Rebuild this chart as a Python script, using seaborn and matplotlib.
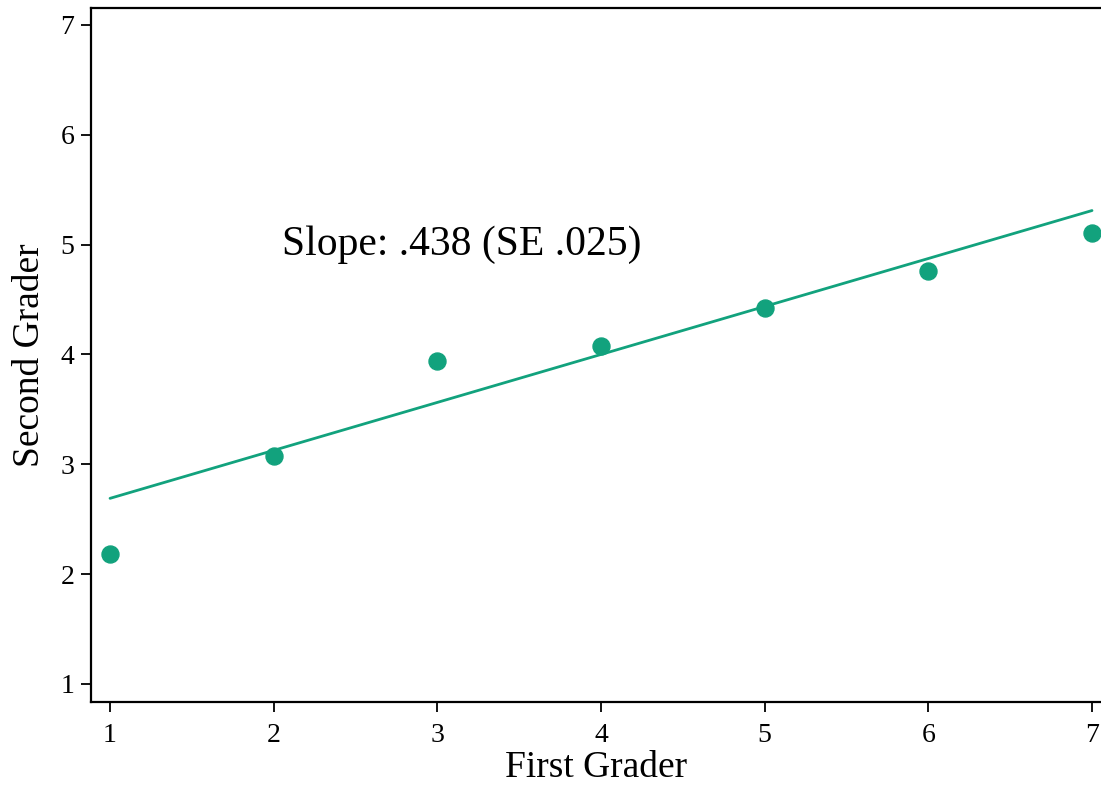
import matplotlib
matplotlib.use('Agg')
import matplotlib.pyplot as plt
import seaborn as sns
import pandas as pd

# data
first_grader = [1, 2, 3, 4, 5, 6, 7]
second_grader = [2.18, 3.08, 3.94, 4.08, 4.42, 4.76, 5.11]

# fitted line (endpoints)
fit_x = [1, 7]
fit_y = [2.69, 5.31]

slope_label = 'Slope: .438 (SE .025)'
ticks = [1, 2, 3, 4, 5, 6, 7]

green = '#12a27d'

sns.set_style('ticks')
plt.rcParams['font.family'] = ['Liberation Serif', 'DejaVu Serif']
plt.rcParams['text.color'] = 'black'
plt.rcParams['axes.labelcolor'] = 'black'
plt.rcParams['xtick.color'] = 'black'
plt.rcParams['ytick.color'] = 'black'
plt.rcParams['axes.edgecolor'] = 'black'

fig = plt.figure(figsize=(11.01, 7.87), dpi=100)
ax = fig.add_axes([0.0827, 0.108, 0.9173, 0.882])

pts = pd.DataFrame({'x': first_grader, 'y': second_grader})
fit = pd.DataFrame({'x': fit_x, 'y': fit_y})

sns.lineplot(data=fit, x='x', y='y', color=green, lw=2, ax=ax)
sns.scatterplot(data=pts, x='x', y='y', color=green, s=150, edgecolor=green, ax=ax, zorder=3)

ax.text(2.05, 5.0, slope_label, fontsize=30, va='center', ha='left')

ax.set_xlim(0.884, 7.055)
ax.set_ylim(0.836, 7.155)
ax.set_xticks(ticks)
ax.set_yticks(ticks)
ax.tick_params(labelsize=20, length=7, width=1.3, direction='out')
ax.tick_params(axis='x', pad=8)
ax.tick_params(axis='y', pad=5)
ax.set_xlabel('First Grader', fontsize=27, labelpad=2)
ax.set_ylabel('Second Grader', fontsize=27, labelpad=10)

for s in ['left', 'bottom', 'top']:
    ax.spines[s].set_linewidth(1.6)
ax.spines['right'].set_visible(False)

fig.savefig('out.png', dpi=100)
plt.close()
